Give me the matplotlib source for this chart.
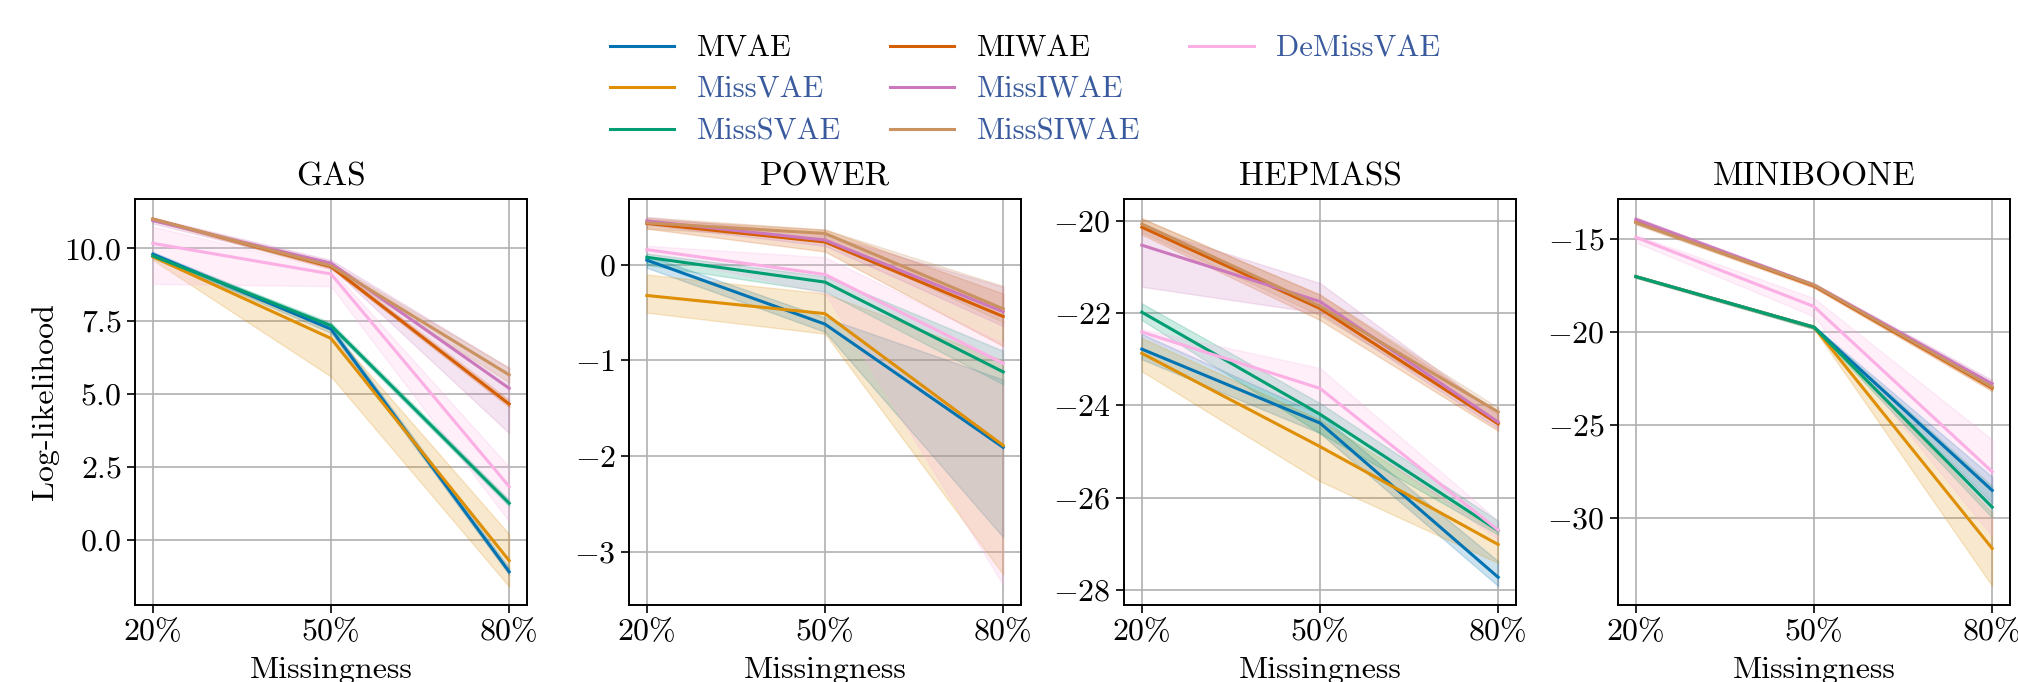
import numpy as np
import matplotlib
matplotlib.use('Agg')
from matplotlib import pyplot as plt
from matplotlib.lines import Line2D
from matplotlib.ticker import FuncFormatter

plt.rcParams['font.family'] = ['cmr10', 'DejaVu Sans']
plt.rcParams['mathtext.fontset'] = 'cm'
plt.rcParams['axes.unicode_minus'] = False

# データ
missingness = [20, 50, 80]
x_labels = ['20%', '50%', '80%']
datasets = ['GAS', 'POWER', 'HEPMASS', 'MINIBOONE']
methods = ['MVAE', 'MissVAE', 'MissSVAE', 'MIWAE', 'MissIWAE', 'MissSIWAE', 'DeMissVAE']
colors = ['#0173b2', '#de8f05', '#029e73', '#d55e00', '#cc78bc', '#ca9161', '#fbafe4']
label_colors = ['black', '#3a5a9e', '#3a5a9e', 'black', '#3a5a9e', '#3a5a9e', '#3a5a9e']

# 平均値 (データセットごと、手法の順)
gas_mean = [[9.80, 7.23, -1.09], [9.71, 6.91, -0.71], [9.74, 7.35, 1.26],
            [11.00, 9.37, 4.66], [10.95, 9.49, 5.20], [11.00, 9.40, 5.66],
            [10.17, 9.12, 1.83]]
gas_low = [[9.72, 7.10, -1.20], [9.60, 5.60, -1.60], [9.66, 7.25, 1.15],
           [10.95, 9.30, 4.55], [10.85, 9.35, 3.66], [10.95, 9.30, 5.40],
           [8.78, 8.70, 0.63]]
gas_high = [[9.88, 7.35, -0.95], [9.80, 7.20, 0.20], [9.82, 7.45, 1.38],
            [11.05, 9.45, 4.80], [11.05, 9.60, 5.90], [11.05, 9.50, 5.90],
            [10.74, 9.30, 2.50]]

power_mean = [[0.05, -0.62, -1.91], [-0.32, -0.51, -1.89], [0.08, -0.18, -1.12],
              [0.435, 0.24, -0.54], [0.46, 0.26, -0.49], [0.44, 0.33, -0.46],
              [0.16, -0.10, -1.03]]
power_low = [[-0.03, -0.70, -2.85], [-0.50, -0.72, -3.24], [0.00, -0.28, -1.25],
             [0.38, 0.14, -0.85], [0.42, 0.20, -0.64], [0.38, 0.28, -0.60],
             [0.12, -0.30, -3.35]]
power_high = [[0.10, -0.55, -1.20], [-0.10, -0.30, -1.00], [0.12, -0.12, -0.90],
              [0.48, 0.37, -0.30], [0.50, 0.32, -0.23], [0.50, 0.37, -0.22],
              [0.20, 0.08, -0.82]]

hepmass_mean = [[-22.78, -24.38, -27.72], [-22.87, -24.89, -27.01], [-21.98, -24.19, -26.71],
                [-20.14, -21.90, -24.40], [-20.53, -21.75, -24.36], [-20.07, -21.85, -24.14],
                [-22.41, -23.63, -26.70]]
hepmass_low = [[-23.00, -24.60, -27.91], [-23.26, -25.64, -27.41], [-22.15, -24.60, -26.80],
               [-20.30, -22.15, -24.55], [-21.43, -22.00, -24.50], [-20.25, -22.05, -24.35],
               [-22.50, -24.17, -26.90]]
hepmass_high = [[-22.45, -24.20, -27.37], [-22.54, -24.31, -26.76], [-21.79, -23.95, -26.50],
                [-19.95, -21.60, -24.15], [-20.13, -21.35, -24.20], [-19.95, -21.60, -24.05],
                [-22.35, -23.19, -26.50]]

miniboone_mean = [[-17.04, -19.76, -28.53], [-17.04, -19.76, -31.65], [-17.04, -19.76, -29.43],
                  [-14.10, -17.54, -23.03], [-13.96, -17.49, -22.80], [-14.14, -17.49, -22.97],
                  [-14.93, -18.65, -27.53]]
miniboone_low = [[-17.10, -19.85, -29.20], [-17.10, -19.85, -33.67], [-17.10, -19.85, -30.00],
                 [-14.20, -17.65, -23.20], [-14.05, -17.60, -23.00], [-14.25, -17.60, -23.15],
                 [-15.20, -19.18, -31.00]]
miniboone_high = [[-16.98, -19.68, -27.80], [-16.98, -19.68, -29.73], [-16.98, -19.68, -28.30],
                  [-14.00, -17.45, -22.85], [-13.85, -17.40, -22.60], [-14.05, -17.40, -22.80],
                  [-14.80, -18.20, -25.80]]

means = [gas_mean, power_mean, hepmass_mean, miniboone_mean]
lows = [gas_low, power_low, hepmass_low, miniboone_low]
highs = [gas_high, power_high, hepmass_high, miniboone_high]
yticks = [[0.0, 2.5, 5.0, 7.5, 10.0], [-3, -2, -1, 0], [-28, -26, -24, -22, -20], [-30, -25, -20, -15]]
ylims = [(-2.23, 11.69), (-3.56, 0.69), (-28.32, -19.53), (-34.69, -12.87)]
ydec = [1, 0, 0, 0]

fig = plt.figure(figsize=(20.18, 6.82), dpi=100)
lefts = [135, 629, 1124, 1618]
fs = 23

for i, name in enumerate(datasets):
    ax = fig.add_axes([lefts[i] / 2018, 77 / 682, 392 / 2018, 406 / 682])
    for j, m in enumerate(methods):
        ax.fill_between(missingness, lows[i][j], highs[i][j], color=colors[j], alpha=0.2, lw=1)
        ax.plot(missingness, means[i][j], color=colors[j], lw=2.2, label=m)
    ax.set_xlim(17, 83)
    ax.set_ylim(*ylims[i])
    ax.set_xticks(missingness)
    ax.set_xticklabels(x_labels)
    ax.set_yticks(yticks[i])
    d = ydec[i]
    ax.yaxis.set_major_formatter(FuncFormatter(lambda v, p, d=d: '$%.*f$' % (d, v)))
    ax.grid(True, color='#b0b0b0', lw=1.2)
    ax.set_axisbelow(True)
    ax.tick_params(labelsize=fs, width=1.2, length=6)
    for s in ax.spines.values():
        s.set_linewidth(1.4)
    ax.set_title(name, fontsize=fs + 1, pad=10)
    ax.set_xlabel('Missingness', fontsize=fs, labelpad=8)
    if i == 0:
        ax.set_ylabel('Log-likelihood', fontsize=fs)

handles = [Line2D([], [], color=c, lw=2.2) for c in colors]
blank = Line2D([], [], color='none')
leg = fig.legend(handles + [blank, blank], methods + ['', ''], ncol=3,
                 loc='upper center', bbox_to_anchor=(0.508, 0.98), frameon=False,
                 fontsize=fs - 1, handlelength=2.1, handletextpad=0.75,
                 columnspacing=1.6, labelspacing=0.46, borderaxespad=0.3)
for t, c in zip(leg.get_texts(), label_colors):
    t.set_color(c)

fig.savefig('out.png', dpi=100)
